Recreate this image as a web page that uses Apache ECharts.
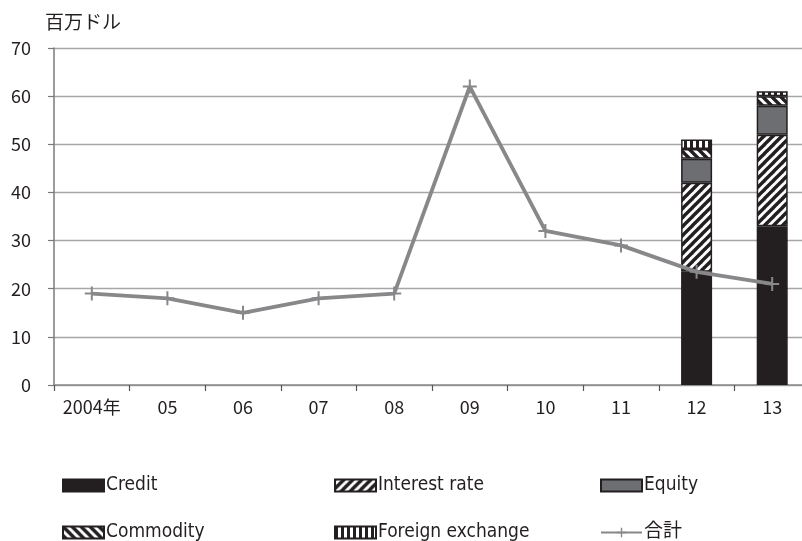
<!DOCTYPE html>
<html>
<head>
<meta charset="utf-8">
<script src="https://cdn.jsdelivr.net/npm/echarts@6/dist/echarts.min.js"></script>
<style>
  html, body { margin: 0; padding: 0; background: #fff; }
  #chart { width: 802px; height: 541px; }
</style>
</head>
<body>
<div id="chart"></div>
<script>
// Categories (years) and series values, in millions of dollars
const years = ['2004年', '05', '06', '07', '08', '09', '10', '11', '12', '13'];
const credit       = [null, null, null, null, null, null, null, null, 23.5, 33];
const interestRate = [null, null, null, null, null, null, null, null, 18.5, 19];
const equity       = [null, null, null, null, null, null, null, null, 5, 6];
const commodity    = [null, null, null, null, null, null, null, null, 2, 2];
const foreignEx    = [null, null, null, null, null, null, null, null, 2, 1];
const total        = [19, 18, 15, 18, 19, 62, 32, 29, 23.5, 21];
const yTicks = { min: 0, max: 70, step: 10 };
const unitLabel = '百万ドル';

// Hatch fills drawn on small canvases and used as repeating patterns
function hatch(kind) {
  const c = document.createElement('canvas');
  const s = kind === 'vertical' ? 6 : 9;
  c.width = s; c.height = s;
  const g = c.getContext('2d');
  g.fillStyle = '#ffffff';
  g.fillRect(0, 0, s, s);
  g.fillStyle = '#231f20';
  g.strokeStyle = '#231f20';
  if (kind === 'vertical') {
    g.fillRect(0, 0, 3, s);
  } else {
    g.lineWidth = 3.4;
    g.lineCap = 'square';
    const dir = kind === 'slash' ? 1 : -1;
    for (let k = -1; k <= 1; k++) {
      g.beginPath();
      if (dir === 1) {
        g.moveTo(k * s - 1, s + 1);
        g.lineTo(k * s + s + 1, -1);
      } else {
        g.moveTo(k * s - 1, -1);
        g.lineTo(k * s + s + 1, s + 1);
      }
      g.stroke();
    }
  }
  return { image: c, repeat: 'repeat' };
}

const plusSymbol = 'path://M6,0 L8,0 L8,6 L14,6 L14,8 L8,8 L8,14 L6,14 L6,8 L0,8 L0,6 L6,6 Z';
const lineGray = '#88888a';
const darkInk = '#231f20';
const cjk = "'Noto Sans CJK JP', 'Noto Sans', sans-serif";
const narrow = "'Liberation Sans Narrow', 'DejaVu Sans Condensed', 'Noto Sans CJK JP', sans-serif";

const chart = echarts.init(document.getElementById('chart'), null, { renderer: 'canvas' });

function barSeries(name, data, fill) {
  return {
    name: name,
    type: 'bar',
    stack: 'total',
    data: data,
    barWidth: 31,
    itemStyle: { color: fill, borderColor: darkInk, borderWidth: 1.5 },
    emphasis: { disabled: true },
    z: 2
  };
}

function legendAt(name, left, top, isLine) {
  const lg = {
    data: [name],
    left: left,
    top: top,
    padding: 0,
    itemWidth: 41,
    itemHeight: 12,
    itemGap: 2,
    selectedMode: false,
    textStyle: { fontFamily: narrow, fontSize: 19, color: '#231f20', padding: [0, 0, 0, -3] }
  };
  if (!isLine) lg.icon = 'rect';
  return lg;
}

chart.setOption({
  animation: false,
  backgroundColor: '#ffffff',
  title: {
    text: unitLabel,
    left: 40,
    top: 7,
    textStyle: { fontFamily: cjk, fontSize: 19, fontWeight: 'normal', color: '#231f20' }
  },
  grid: { left: 54, right: -8, top: 48, bottom: 156, outerBoundsMode: 'none', containLabel: false },
  legend: [
    legendAt('Credit', 62, 476),
    legendAt('Interest rate', 334, 476),
    legendAt('Equity', 600, 476),
    legendAt('Commodity', 62, 523),
    legendAt('Foreign exchange', 334, 523),
    legendAt('合計', 600, 523, true)
  ],
  xAxis: {
    type: 'category',
    data: years,
    boundaryGap: true,
    axisLine: { lineStyle: { color: '#8a8a8a', width: 1.5 } },
    axisTick: { show: true, length: 6, interval: 0, alignWithLabel: false, lineStyle: { color: '#555', width: 1.2 } },
    axisLabel: { fontFamily: cjk, fontSize: 18, color: '#231f20', margin: 13, interval: 0 }
  },
  yAxis: {
    type: 'value',
    min: yTicks.min,
    max: yTicks.max,
    interval: yTicks.step,
    axisLine: { show: true, lineStyle: { color: '#7a7a7a', width: 1.5 } },
    axisTick: { show: true, length: 6, lineStyle: { color: '#7a7a7a', width: 1.2 } },
    splitLine: { lineStyle: { color: '#a6a6a6', width: 1.3 } },
    axisLabel: { fontFamily: cjk, fontSize: 18, color: '#231f20', margin: 23, align: 'right' }
  },
  series: [
    barSeries('Credit', credit, darkInk),
    barSeries('Interest rate', interestRate, hatch('slash')),
    barSeries('Equity', equity, '#6d6e71'),
    barSeries('Commodity', commodity, hatch('backslash')),
    barSeries('Foreign exchange', foreignEx, hatch('vertical')),
    {
      name: '合計',
      type: 'line',
      data: total,
      symbol: plusSymbol,
      symbolSize: 14,
      showAllSymbol: true,
      lineStyle: { color: lineGray, width: 3.8 },
      itemStyle: { color: lineGray },
      emphasis: { disabled: true },
      z: 5
    }
  ]
});
</script>
</body>
</html>
